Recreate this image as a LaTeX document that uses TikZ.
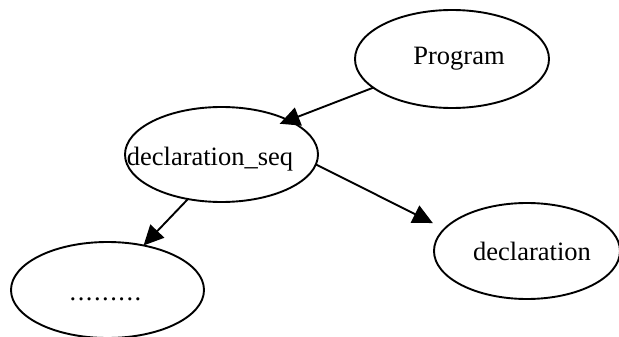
\documentclass[tikz,border=0pt]{standalone}
\usepackage{fontspec}
\setmainfont{Liberation Serif}
\usetikzlibrary{shapes.geometric,arrows.meta}
\newcommand{\placetext}[3]{\raisebox{-#2}[0pt][0pt]{\makebox[0pt][l]{\hspace*{#1}\makebox[0pt]{#3}}}}
\newcommand{\spdot}{.\kern1.5pt}
\begin{document}
\begin{tikzpicture}[x=1pt,y=-1pt,
  oval/.style={ellipse, draw, line width=1.9pt, inner sep=0pt, outer sep=0pt},
  link/.style={line width=1.9pt, -{Triangle[length=20pt,width=19pt]}},
  font=\fontsize{26.5}{30}\selectfont]
\useasboundingbox (0,0) rectangle (619,337);
\node[oval, minimum width=194pt, minimum height=98pt] (p) at (452,59) {\placetext{7pt}{6pt}{Program}};
\node[oval, minimum width=193pt, minimum height=95pt] (ds) at (221.5,154.5) {\placetext{-11.5pt}{10.5pt}{declaration\_seq}};
\node[oval, minimum width=186pt, minimum height=96pt] (d) at (527,251) {\placetext{5pt}{9pt}{declaration}};
\node[oval, minimum width=193pt, minimum height=96pt] (x) at (107.5,290) {\placetext{-2pt}{10pt}{\spdot\spdot\spdot\spdot\spdot\spdot\spdot\spdot.}};
\draw[link, shorten >=-9.5pt] (p.200) -- (ds.27);
\draw[link, shorten >=13pt] (ds.-6) -- (d.165);
\draw[link] (ds.233) -- (x.51);
\end{tikzpicture}
\end{document}
